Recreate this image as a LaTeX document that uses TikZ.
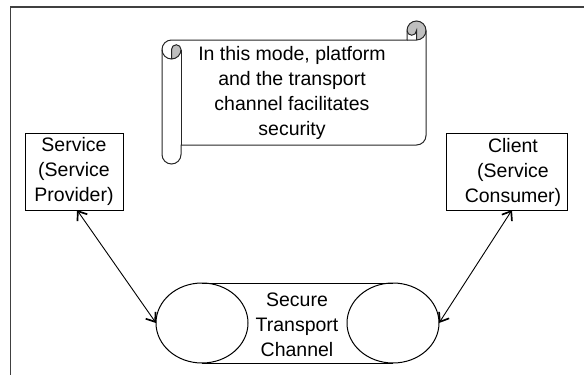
\documentclass[tikz,border=0pt]{standalone}
\usepackage{fontspec}
\setmainfont{Liberation Sans}
\usetikzlibrary{calc,arrows.meta,shapes.geometric}

\begin{document}
\begin{tikzpicture}[x=1pt,y=-1pt,inner sep=0pt,outer sep=0pt,
    every node/.style={font=\fontsize{19.5}{25}\selectfont, align=center},
    box/.style={draw, line width=1pt},
    scrolledge/.style={line width=1pt, black!85},
    rollshade/.style={fill=black!25},
    link/.style={line width=0.9pt,
      {Straight Barb[length=8pt,width=12pt,line width=1.7pt]}-{Straight Barb[length=8pt,width=12pt,line width=1.7pt]}}]
    \useasboundingbox (0,0) rectangle (584,375);

    % frame
    \draw[line width=1.8pt, black!75] (10.5,375) -- (10.5,7) -- (584,7);

    % scroll
    \fill[rollshade] (416.5,40) arc[start angle=90, delta angle=-270, radius=9.5]
        arc[start angle=180, delta angle=-180, radius=4.75] -- cycle;
    \fill[rollshade] (171.5,59) arc[start angle=90, delta angle=-90, radius=9.5]
        arc[start angle=0, delta angle=-180, radius=4.75] -- cycle;
    \draw[scrolledge] (162,49.5) arc[start angle=180, delta angle=90, radius=9.5]
        -- (407,40) -- (407,30.5) arc[start angle=180, delta angle=180, radius=9.5]
        -- (426,135.5) arc[start angle=0, delta angle=90, radius=9.5]
        -- (181,145) -- (181,154.5) arc[start angle=0, delta angle=180, radius=9.5] -- cycle;
    \draw[scrolledge] (407,40) -- (416.5,40) arc[start angle=90, delta angle=-90, radius=9.5];
    \draw[scrolledge] (416.5,40) -- (416.5,30.5) arc[start angle=0, delta angle=180, radius=4.75];
    \draw[scrolledge] (171.5,59) -- (171.5,49.5) arc[start angle=180, delta angle=180, radius=4.75]
        arc[start angle=0, delta angle=180, radius=9.5];
    \draw[scrolledge] (181,49.5) -- (181,145);

    \node (note) at (292,92.5)
    {In this mode, platform\\ and the transport\\ channel facilitates\\ security};

    % service and client
    \node[box, minimum width=98, minimum height=77] (service) at (74,171.5)
    {Service\\ (Service\\ Provider)};

    \node[box, minimum width=121, minimum height=77] (client) at (506.5,171.5) {};
    \node (client_txt) at (513,172) {Client\\ (Service\\ Consumer)};

    % transport channel
    \node[box, ellipse, minimum width=92, minimum height=80] (chl) at (202,323) {};
    \node[box, ellipse, minimum width=92, minimum height=80] (chr) at (393,323) {};
    \draw[line width=1pt] (chl.north) -- (chr.north);
    \draw[line width=1pt] (chl.south) -- (chr.south);
    \node (channel) at (297,325) {Secure\\ Transport\\ Channel};

    % links
    \draw[link] ([xshift=3pt]service.south) -- (chl.west);
    \draw[link] ([xshift=5.5pt]client.south) -- (chr.east);

\end{tikzpicture}
\end{document}
